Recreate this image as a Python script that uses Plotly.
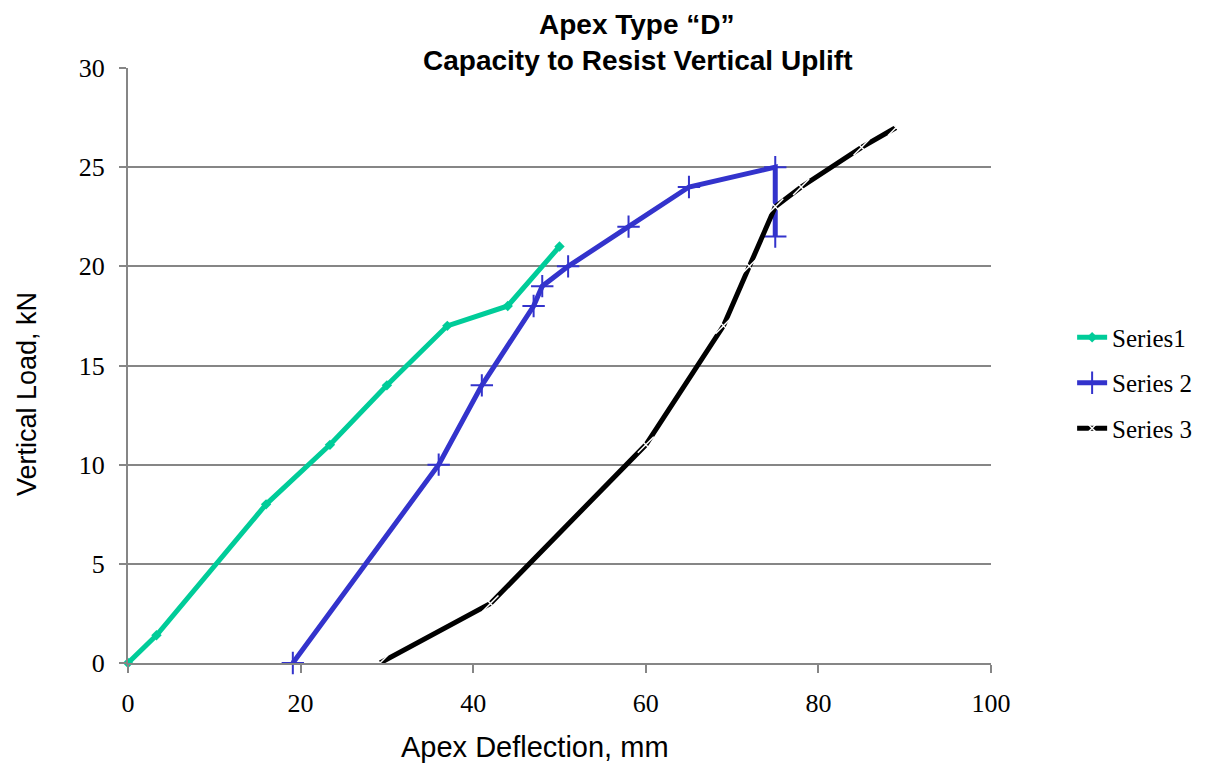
import plotly.graph_objects as go

# Apex Type "D" uplift test: load vs. apex deflection
s1_x = [0, 3.3, 16, 23.4, 30, 37, 44, 50]
s1_y = [0, 1.4, 8, 11, 14, 17, 18, 21]

s2_x = [19.1, 36, 41, 47, 48, 51, 58, 65, 75, 75]
s2_y = [0, 10, 14, 18, 19, 20, 22, 24, 25, 21.5]

s3_x = [29.2, 42, 60, 69, 72, 75, 78, 85, 89]
s3_y = [0, 3, 11, 17, 20, 23, 24, 26, 27]

x_ticks = [0, 20, 40, 60, 80, 100]
y_ticks = [0, 5, 10, 15, 20, 25, 30]

GRID = "#868686"
SERIF = "Liberation Serif"
SANS = "Liberation Sans"

# the page body adds an 8px margin, so the figure is 8px smaller each way
W, H = 1197, 755
L, T = 120, 60
PW, PH = 863, 595

fig = go.Figure()
fig.add_scatter(x=s1_x, y=s1_y, name="Series1", mode="lines+markers",
                legendgroup="a", cliponaxis=False,
                line=dict(color="#00CC99", width=5),
                marker=dict(symbol="diamond", size=8, color="#00CC99"))
fig.add_scatter(x=s2_x, y=s2_y, name="Series 2", mode="lines+markers",
                legendgroup="b", cliponaxis=False,
                line=dict(color="#3333CC", width=5),
                marker=dict(symbol="cross-thin", size=16,
                            line=dict(color="#3333CC", width=2)))
fig.add_scatter(x=s3_x, y=s3_y, name="Series 3", mode="lines+markers",
                legendgroup="c", cliponaxis=False,
                line=dict(color="black", width=5),
                marker=dict(symbol="x-thin", size=16,
                            line=dict(color="white", width=1.5)))

# title sits on a white box that hides most of the top gridline
fig.add_shape(type="rect", xref="paper", yref="paper",
              x0=0.181, x1=0.998, y0=0.994, y1=1.006,
              fillcolor="white", line_width=0, layer="above")

fig.add_annotation(text="<b>Apex Type “D”</b>", xref="paper", yref="paper",
                   x=0.59, y=1.0723, xanchor="center", yanchor="middle",
                   showarrow=False, font=dict(family=SANS, size=28, color="black"))
fig.add_annotation(text="<b>Capacity to Resist Vertical Uplift</b>",
                   xref="paper", yref="paper", x=0.59, y=1.0134,
                   xanchor="center", yanchor="middle", showarrow=False,
                   font=dict(family=SANS, size=28, color="black"))
fig.add_annotation(text="Apex Deflection, mm", xref="paper", yref="paper",
                   x=(535 - 128) / PW, y=(663 - 747) / PH,
                   xanchor="center", yanchor="middle", showarrow=False,
                   font=dict(family=SANS, size=29, color="black"))
fig.add_annotation(text="Vertical Load, kN", xref="paper", yref="paper",
                   x=(27 - 128) / PW, y=(663 - 394) / PH, textangle=-90,
                   xanchor="center", yanchor="middle", showarrow=False,
                   font=dict(family=SANS, size=27, color="black"))

fig.update_xaxes(range=[0, 100], tickvals=x_ticks, showgrid=False,
                 zeroline=False, showline=True, linecolor=GRID, linewidth=2,
                 ticks="outside", ticklen=8, tickwidth=2, tickcolor=GRID,
                 ticklabelstandoff=8,
                 tickfont=dict(family=SERIF, size=26, color="black"))
fig.update_yaxes(range=[0, 30], tickvals=y_ticks, showgrid=True,
                 gridcolor=GRID, gridwidth=2, zeroline=False,
                 showline=True, linecolor=GRID, linewidth=2,
                 ticks="outside", ticklen=7, tickwidth=2, tickcolor=GRID,
                 ticklabelstandoff=9,
                 tickfont=dict(family=SERIF, size=26, color="black"))

fig.update_layout(
    width=W, height=H,
    margin=dict(l=L, r=W - L - PW, t=T, b=H - T - PH, autoexpand=False),
    plot_bgcolor="white", paper_bgcolor="white",
    showlegend=True,
    legend=dict(x=1.094, y=0.4706, xanchor="left", yanchor="middle",
                font=dict(family=SERIF, size=25, color="black"),
                tracegroupgap=10, bgcolor="rgba(0,0,0,0)"),
)

fig.write_html("out.html")
